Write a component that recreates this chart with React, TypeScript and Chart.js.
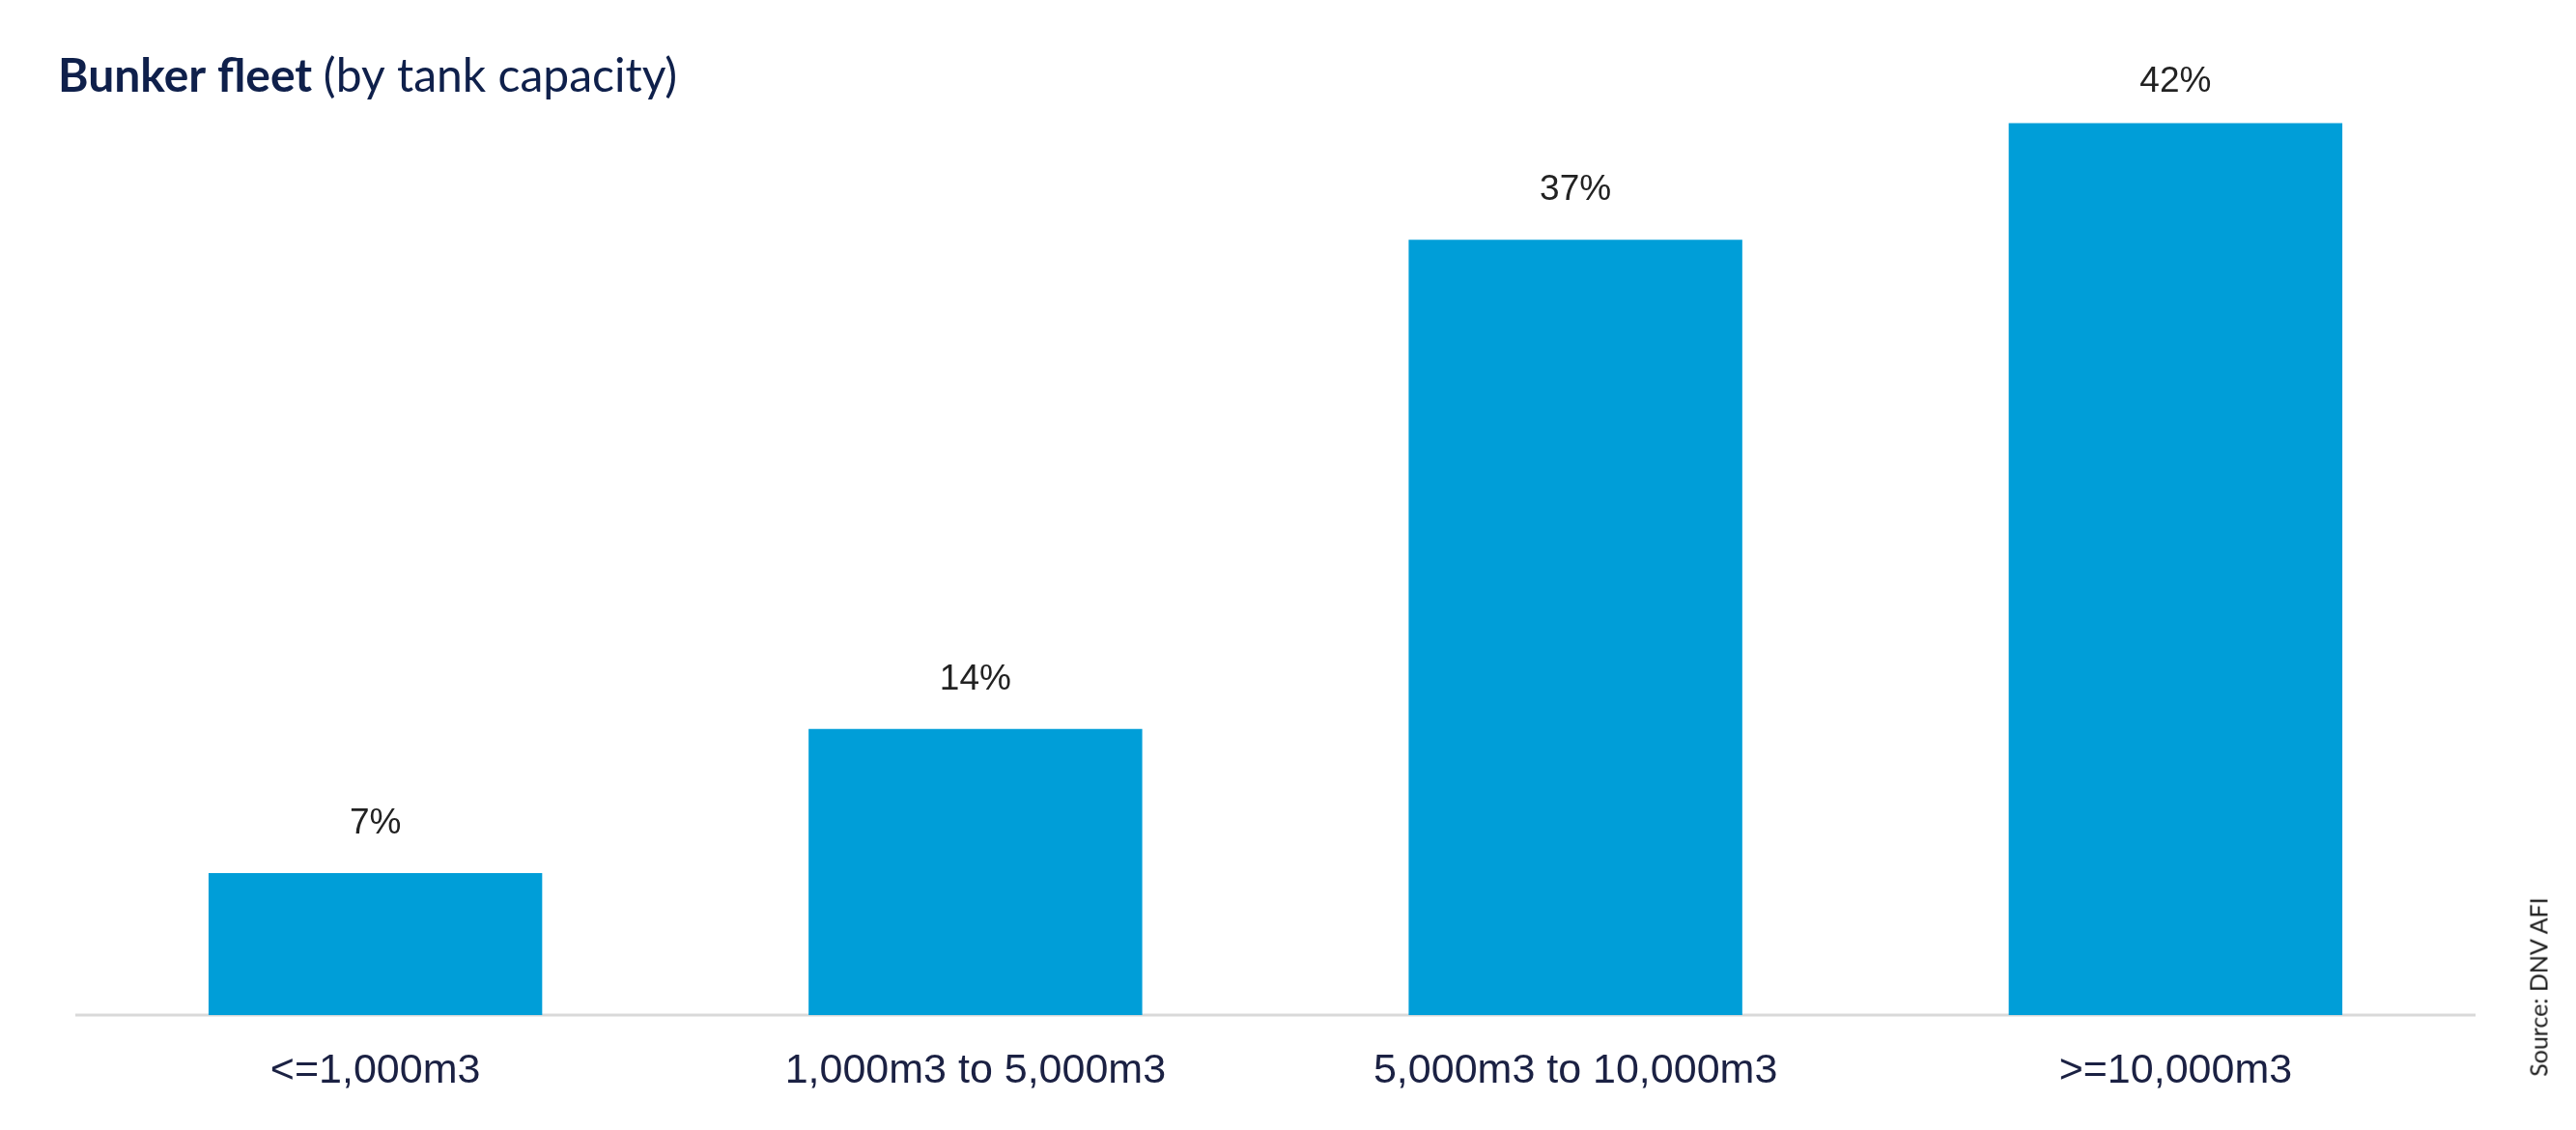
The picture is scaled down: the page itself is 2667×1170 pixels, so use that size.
import React, { useEffect, useRef } from "react";
import { Chart, registerables } from "chart.js";

Chart.register(...registerables);

const categories: string[] = ["<=1,000m3", "1,000m3 to 5,000m3", "5,000m3 to 10,000m3", ">=10,000m3"];
const shareValues: number[] = [6.75, 13.6, 36.85, 42.4];
const shareLabels: string[] = ["7%", "14%", "37%", "42%"];
const titleBold = "Bunker fleet";
const titleRest = "(by tank capacity)";
const sourceText = "Source: DNV AFI";

const W = 2667;
const H = 1170;

const decorPlugin = {
  id: "decor",
  beforeDatasetsDraw(chart: any) {
    const ctx = chart.ctx;
    const xs = chart.scales.x;
    const area = chart.chartArea;
    const n = categories.length;
    const p0 = xs.getPixelForTick(0);
    const pN = xs.getPixelForTick(n - 1);
    const half = n > 1 ? (pN - p0) / (n - 1) / 2 : 0;
    ctx.save();
    ctx.strokeStyle = "#d9d9d9";
    ctx.lineWidth = 3;
    ctx.beginPath();
    ctx.moveTo(p0 - half, area.bottom);
    ctx.lineTo(pN + half, area.bottom);
    ctx.stroke();
    ctx.restore();
  },
  afterDatasetsDraw(chart: any) {
    const ctx = chart.ctx;
    const meta = chart.getDatasetMeta(0);
    const area = chart.chartArea;
    ctx.save();
    ctx.font = "37px 'Liberation Sans', Arial, sans-serif";
    ctx.fillStyle = "#222222";
    ctx.textAlign = "center";
    ctx.textBaseline = "alphabetic";
    meta.data.forEach((bar: any, i: number) => {
      const y = Math.max(bar.y - 41, area.top + 46);
      ctx.fillText(shareLabels[i], bar.x, y);
    });
    ctx.textAlign = "left";
    ctx.fillStyle = "#0F204B";
    ctx.font = "700 48px Lato, 'Noto Sans', sans-serif";
    const tx = 60;
    const ty = 95;
    ctx.fillText(titleBold, tx, ty);
    const bw = ctx.measureText(titleBold + " ").width;
    ctx.font = "400 48px Lato, 'Noto Sans', sans-serif";
    ctx.fillText(titleRest, tx + bw, ty);
    ctx.restore();
  },
};

export default function App() {
  const canvasRef = useRef<HTMLCanvasElement | null>(null);

  useEffect(() => {
    if (!canvasRef.current) return;
    const chart = new Chart(canvasRef.current, {
      type: "bar",
      data: {
        labels: categories,
        datasets: [
          {
            data: shareValues,
            backgroundColor: "#009ED8",
            borderWidth: 0,
            categoryPercentage: 1,
            barPercentage: 0.556,
          },
        ],
      },
      options: {
        animation: false,
        responsive: true,
        maintainAspectRatio: false,
        layout: { padding: { left: 78, right: 104, top: 49, bottom: 0 } },
        plugins: {
          legend: { display: false },
          tooltip: { enabled: false },
          title: { display: false },
        },
        scales: {
          x: {
            grid: { display: false, drawTicks: false },
            border: { display: false },
            ticks: {
              padding: 32,
              color: "#1b2143",
              font: { family: "'Liberation Sans', Arial, sans-serif", size: 43 },
              maxRotation: 0,
              autoSkip: false,
            },
            afterFit: (scale: any) => {
              scale.height = H - 1051;
            },
          },
          y: {
            display: false,
            min: 0,
            max: 46,
          },
        },
      },
      plugins: [decorPlugin],
    });
    return () => chart.destroy();
  }, []);

  return (
    <div style={{ position: "fixed", left: 0, top: 0, width: W, height: H, background: "#ffffff" }}>
      <canvas ref={canvasRef} />
      <div
        style={{
          position: "absolute",
          left: 2628,
          top: 1022,
          transform: "translate(-50%, -50%) rotate(-90deg)",
          fontFamily: "Lato, 'Noto Sans', sans-serif",
          fontWeight: 400,
          fontSize: 25,
          lineHeight: 1,
          color: "#1a1a1a",
          whiteSpace: "nowrap",
        }}
      >
        {sourceText}
      </div>
    </div>
  );
}
